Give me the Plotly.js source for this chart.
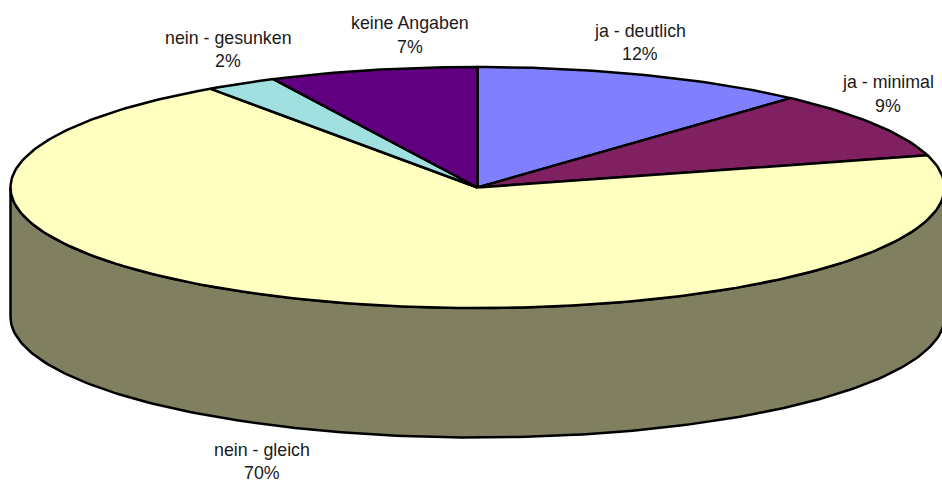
<!DOCTYPE html>
<html><head><meta charset="utf-8">
<script src="https://cdn.plot.ly/plotly-3.0.1.min.js"></script>
<style>html,body{margin:0;padding:0;background:#fff}#c{width:942px;height:480px}</style>
</head><body><div id="c"></div>
<script>
// Data, clockwise from 12 o'clock
const categories = ["ja - deutlich","ja - minimal","nein - gleich","nein - gesunken","keine Angaben"];
const shares = [11.7, 9.0, 69.6, 2.5, 7.2];
const percentLabels = ["12%","9%","70%","2%","7%"];
const colors = ["#8080FF","#802060","#FFFFC0","#A0E0E0","#600080"];
const wallColor = "#808060";

// Layout of the chart area, in pixels
const W = 942, H = 480, CX = 477.5, CY = 187.5, RX = 467, RY = 120.5, DEPTH = 129.5;
// Label centres as fractions of the paper: [x, name line y, percent line y]
const labelPlacement = [
  [640/W, 1-31/H, 1-54/H],
  [888/W, 1-82/H, 1-106/H],
  [262/W, 1-450/H, 1-472.5/H],
  [228/W, 1-38/H, 1-61/H],
  [410/W, 1-23/H, 1-47/H]
];

const deg = Math.PI/180;
function rim(a0, a1, dy){
  const xs=[], ys=[], n=Math.max(2,Math.ceil(Math.abs(a1-a0)));
  for(let i=0;i<=n;i++){
    const a=(a0+(a1-a0)*i/n)*deg;
    xs.push(Math.sin(a)); ys.push(Math.cos(a)-(dy||0));
  }
  return [xs,ys];
}
const depthU = DEPTH/RY;
const traces = [];
// wall: front half of the cylinder
{
  const [tx,ty]=rim(90,270,0), [bx,by]=rim(270,90,depthU);
  traces.push({type:"scatter",mode:"lines",x:tx.concat(bx,[tx[0]]),y:ty.concat(by,[ty[0]]),
    fill:"toself",fillcolor:wallColor,line:{color:"#000",width:2.5},hoverinfo:"skip",showlegend:false});
}
// slices on the top face
const total = shares.reduce((a,b)=>a+b,0);
let start = 0;
shares.forEach((v,i)=>{
  const end = start + v/total*360;
  const [xs,ys]=rim(start,end,0);
  traces.push({type:"scatter",mode:"lines",name:categories[i],
    x:[0].concat(xs,[0]),y:[0].concat(ys,[0]),fill:"toself",fillcolor:colors[i],
    line:{color:"#000",width:2.5,shape:"linear"},showlegend:false,
    text:categories[i]+" "+percentLabels[i],hoverinfo:"text"});
  start = end;
});

const font = {family:"Liberation Sans, Arial, sans-serif",size:17.8,color:"#1a1a1a"};
const annotations = [];
categories.forEach((c,i)=>{
  const p = labelPlacement[i];
  annotations.push({xref:"paper",yref:"paper",x:p[0],y:p[1],text:c,showarrow:false,font,xanchor:"center",yanchor:"middle"});
  annotations.push({xref:"paper",yref:"paper",x:p[0],y:p[2],text:percentLabels[i],showarrow:false,font,xanchor:"center",yanchor:"middle"});
});

const hiddenAxis = {visible:false,showgrid:false,zeroline:false,fixedrange:true};
Plotly.newPlot("c",traces,{
  width:W,height:H,margin:{l:0,r:0,t:0,b:0,pad:0},
  paper_bgcolor:"#fff",plot_bgcolor:"#fff",showlegend:false,annotations,
  xaxis:Object.assign({range:[(0-CX)/RX,(W-CX)/RX]},hiddenAxis),
  yaxis:Object.assign({range:[(CY-H)/RY,CY/RY]},hiddenAxis)
},{displayModeBar:false,staticPlot:true});
</script></body></html>
